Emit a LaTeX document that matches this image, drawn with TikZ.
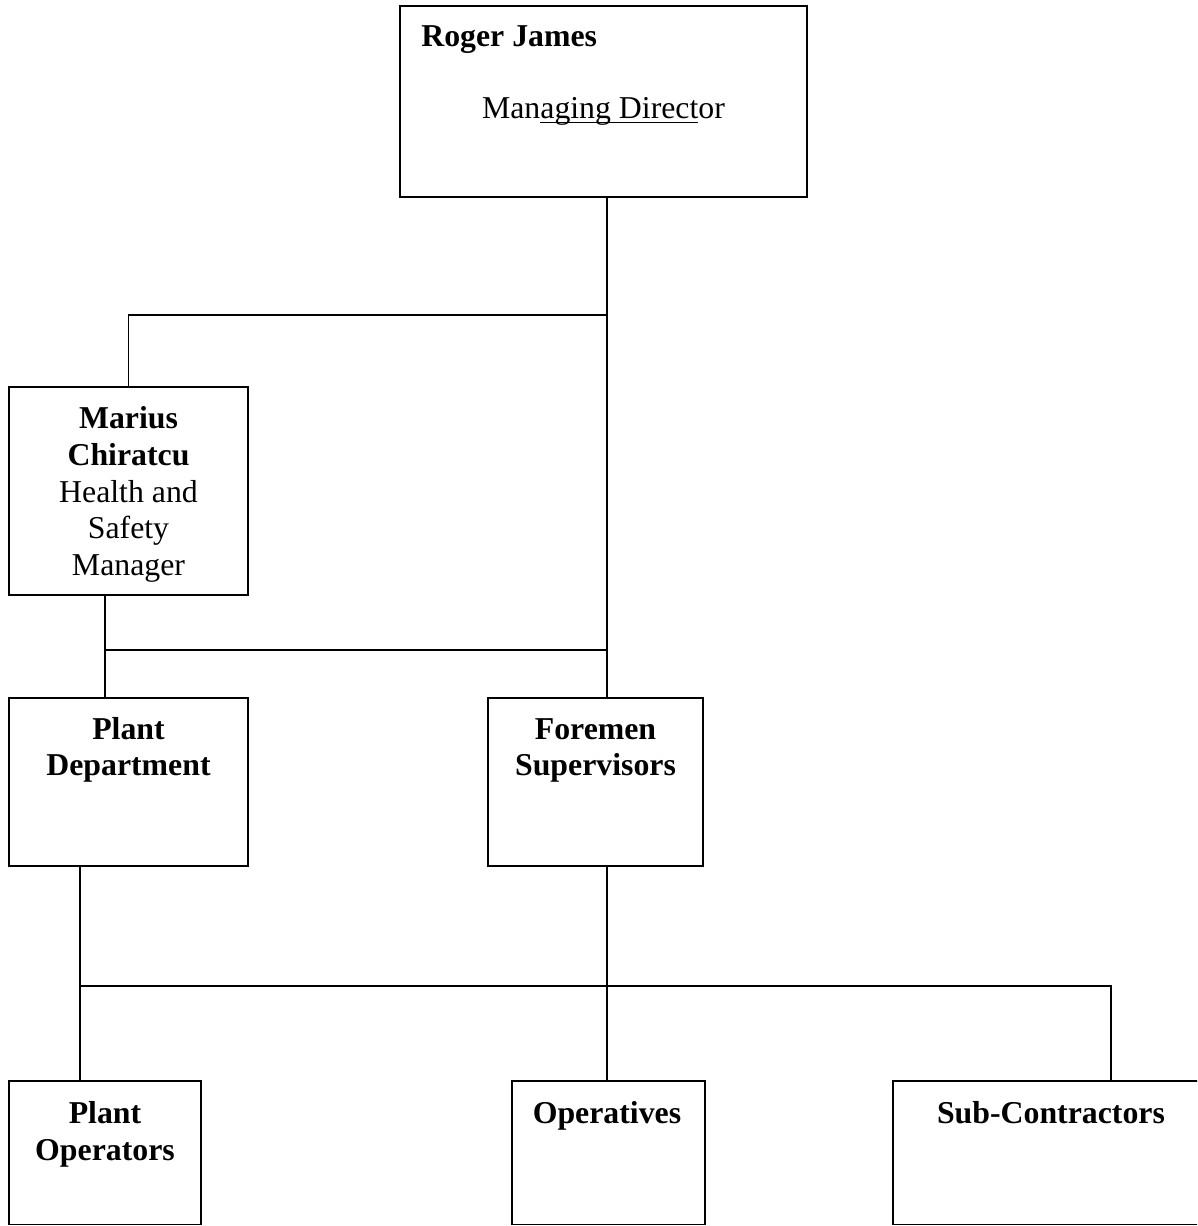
\documentclass[tikz,border=0pt]{standalone}
\usepackage{fontspec}
\setmainfont{Liberation Serif}
\usetikzlibrary{fit}
\newcommand\partul[1]{\setbox0\hbox{#1}\rlap{\rule[-2.4pt]{\wd0}{0.6pt}}\box0}
\tikzset{
  box/.style={draw, line width=1.1pt, inner sep=0pt, rectangle},
  conn/.style={draw, line width=0.9pt},
  txt/.style={anchor=base, inner sep=0pt, font=\fontsize{18.1}{21}\selectfont},
  btxt/.style={txt, font=\fontsize{18.1}{21}\selectfont\bfseries},
}
\begin{document}
\begin{tikzpicture}[x=0.02cm, y=-0.02cm]
\clip (0,0) rectangle (1197,1226);
% boxes
\node[box, fit={(400,6) (807,197)}] (roger) {};
\node[box, fit={(9,387) (248,595)}] (marius) {};
\node[box, fit={(9,698) (248,866)}] (plant) {};
\node[box, fit={(488,698) (703,866)}] (foremen) {};
\node[box, fit={(9,1081) (201,1224.5)}] (plantop) {};
\node[box, fit={(512,1081) (705,1224.5)}] (operatives) {};
\node[box, fit={(893,1081) (1210,1224.5)}] (subcon) {};
% texts
\node[btxt, anchor=base west] (t1) at (421,47) {Roger James};
\node[txt] (t2) at (603.5,119) {Man\partul{aging Direct}or};
\node[btxt] (t3) at (128.5,428) {Marius};
\node[btxt] (t4) at (128.5,465) {Chiratcu};
\node[txt] (t5) at (128.5,502) {Health and};
\node[txt] (t6) at (128.5,538.5) {Safety};
\node[txt] (t7) at (128.5,575) {Manager};
\node[btxt] (t8) at (128.5,739) {Plant};
\node[btxt] (t9) at (128.5,775.5) {Department};
\node[btxt] (t10) at (595.5,739) {Foremen};
\node[btxt] (t11) at (595.5,775.5) {Supervisors};
\node[btxt] (t12) at (105,1123) {Plant};
\node[btxt] (t13) at (105,1160) {Operators};
\node[btxt] (t14) at (607,1123) {Operatives};
\node[btxt] (t15) at (1051,1123) {Sub-Contractors};
% connector helper coordinates
\coordinate (mainx) at (607,0);
\coordinate (pdx) at (105,0);
\coordinate (pox) at (80,0);
\coordinate (j1) at (607,315);
\coordinate (j2) at (607,650);
\coordinate (j3) at (1111,986);
% connectors
\draw[conn] (roger.south -| mainx) -- (foremen.north -| mainx);
\draw[conn] (marius.north) |- (j1);
\draw[conn] (marius.south -| pdx) -- (plant.north -| pdx);
\draw[conn] (j2) -- (j2 -| pdx);
\draw[conn] (plant.south -| pox) -- (plantop.north -| pox);
\draw[conn] (foremen.south -| mainx) -- (operatives.north -| mainx);
\draw[conn] (j3 -| pox) -- (j3) -- (subcon.north -| j3);
\end{tikzpicture}
\end{document}
